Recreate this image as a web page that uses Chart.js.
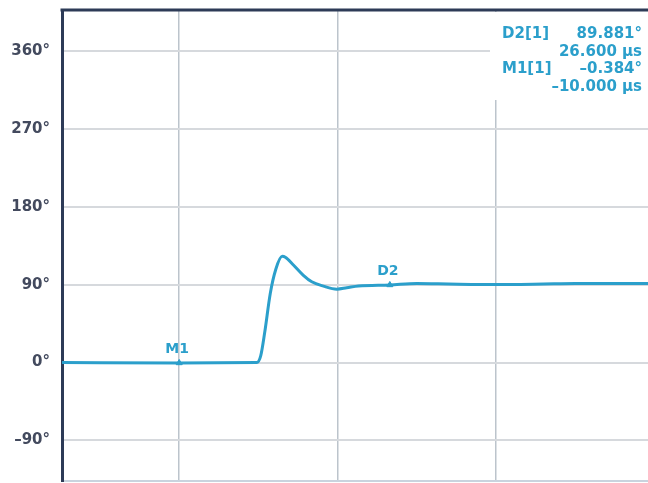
<!DOCTYPE html>
<html>
<head>
<meta charset="utf-8">
<script src="https://cdn.jsdelivr.net/npm/chart.js@4"></script>
<style>
  html, body { margin: 0; padding: 0; background: #fff; overflow: hidden; }
  canvas { display: block; }
</style>
</head>
<body>
<canvas id="phaseChart" width="648" height="483"></canvas>
<script>
// values (time in µs, phase in degrees)
const timeUs   = [-24.8, -10, -0.2, 0.3, 0.8, 1.5, 2.2, 3.0, 3.4, 4.42, 5.68, 6.74, 8.21, 9.9, 11.16, 12.63, 16.6, 20, 24, 28, 32, 36, 40, 44, 49.2];
const phaseDeg = [0, -0.384, 0, 8, 35, 80, 108, 123, 122, 113, 101, 93.5, 88.5, 85, 86.6, 88.6, 89.9, 91.5, 91, 90.5, 90.5, 91, 91.5, 91.5, 91.5];

const yTicks = [360, 270, 180, 90, 0, -90];
const xGrid  = [-10, 10, 30];

// markers and readout
const markerNames = ['M1', 'D2'];
const markerTime  = [-10, 16.6];
const markerPhase = [-0.384, 89.881];
const readout = [
  ['D2[1]', '89.881°'],
  ['', '26.600 µs'],
  ['M1[1]', '–0.384°'],
  ['', '–10.000 µs']
];

const blue = '#2b9fcb';
const font = 'DejaVu Sans';

const frameAndText = {
  id: 'frameAndText',
  beforeDatasetsDraw(chart) {
    const ctx = chart.ctx, a = chart.chartArea;
    // white readout box covering the grid
    ctx.save();
    ctx.fillStyle = '#fff';
    ctx.fillRect(a.right - 158, a.top + 2, 158, 88);
    ctx.restore();
  },
  afterDatasetsDraw(chart) {
    const ctx = chart.ctx, a = chart.chartArea;
    const xs = chart.scales.x, ys = chart.scales.y;
    ctx.save();
    // top frame line
    ctx.strokeStyle = '#2d3b57';
    ctx.lineWidth = 3;
    ctx.beginPath();
    ctx.moveTo(a.left - 1.5, a.top);
    ctx.lineTo(a.right, a.top);
    ctx.stroke();

    // marker labels
    ctx.fillStyle = blue;
    ctx.font = 'bold 14px "' + font + '"';
    ctx.textAlign = 'center';
    ctx.textBaseline = 'bottom';
    markerNames.forEach((n, i) => {
      ctx.fillText(n, xs.getPixelForValue(markerTime[i]) - 2, ys.getPixelForValue(markerPhase[i]) - 7);
    });

    // readout text
    ctx.font = 'bold 15px "' + font + '"';
    ctx.textBaseline = 'middle';
    readout.forEach((row, i) => {
      const y = a.top + 24 + i * 17.7;
      ctx.textAlign = 'left';
      if (row[0]) ctx.fillText(row[0], a.right - 146, y);
      ctx.textAlign = 'right';
      ctx.fillText(row[1], a.right - 6, y);
    });
    ctx.restore();
  }
};

const ctx = document.getElementById('phaseChart').getContext('2d');
const phaseChart = new Chart(ctx, {
  type: 'line',
  data: {
    datasets: [{
      data: timeUs.map((t, i) => ({ x: t, y: phaseDeg[i] })),
      borderColor: blue,
      borderWidth: 3,
      pointRadius: 0,
      cubicInterpolationMode: 'monotone',
      fill: false
    }, {
      type: 'scatter',
      data: markerTime.map((t, i) => ({ x: t, y: markerPhase[i] })),
      pointStyle: 'triangle',
      pointRadius: 3.5,
      backgroundColor: blue,
      borderColor: blue,
      borderWidth: 1
    }]
  },
  options: {
    responsive: false,
    animation: false,
    layout: { autoPadding: false, padding: { top: 10, right: 0, bottom: 2, left: 0 } },
    plugins: {
      legend: { display: false },
      tooltip: { enabled: false }
    },
    scales: {
      x: {
        type: 'linear',
        min: -24.8,
        max: 49.2,
        afterBuildTicks: axis => { axis.ticks = xGrid.map(v => ({ value: v })); },
        afterFit: axis => { axis.height = 0; axis.paddingLeft = 0; axis.paddingRight = 0; },
        ticks: { display: false },
        grid: { color: '#bcc4cc', lineWidth: 1.5, drawTicks: false },
        border: { color: '#c9d3de', width: 2 }
      },
      y: {
        min: -137,
        max: 408,
        afterBuildTicks: axis => { axis.ticks = yTicks.map(v => ({ value: v })); },
        afterFit: axis => { axis.width = 62; axis.paddingTop = 0; axis.paddingBottom = 0; },
        ticks: {
          color: '#434a5e',
          padding: 12,
          font: { family: font, size: 15, weight: 'bold' },
          callback: v => (v < 0 ? '–' + Math.abs(v) : v) + '°'
        },
        grid: { color: '#d6d9dd', lineWidth: 2, drawTicks: false },
        border: { color: '#2d3b57', width: 3 }
      }
    }
  },
  plugins: [frameAndText]
});
</script>
</body>
</html>
